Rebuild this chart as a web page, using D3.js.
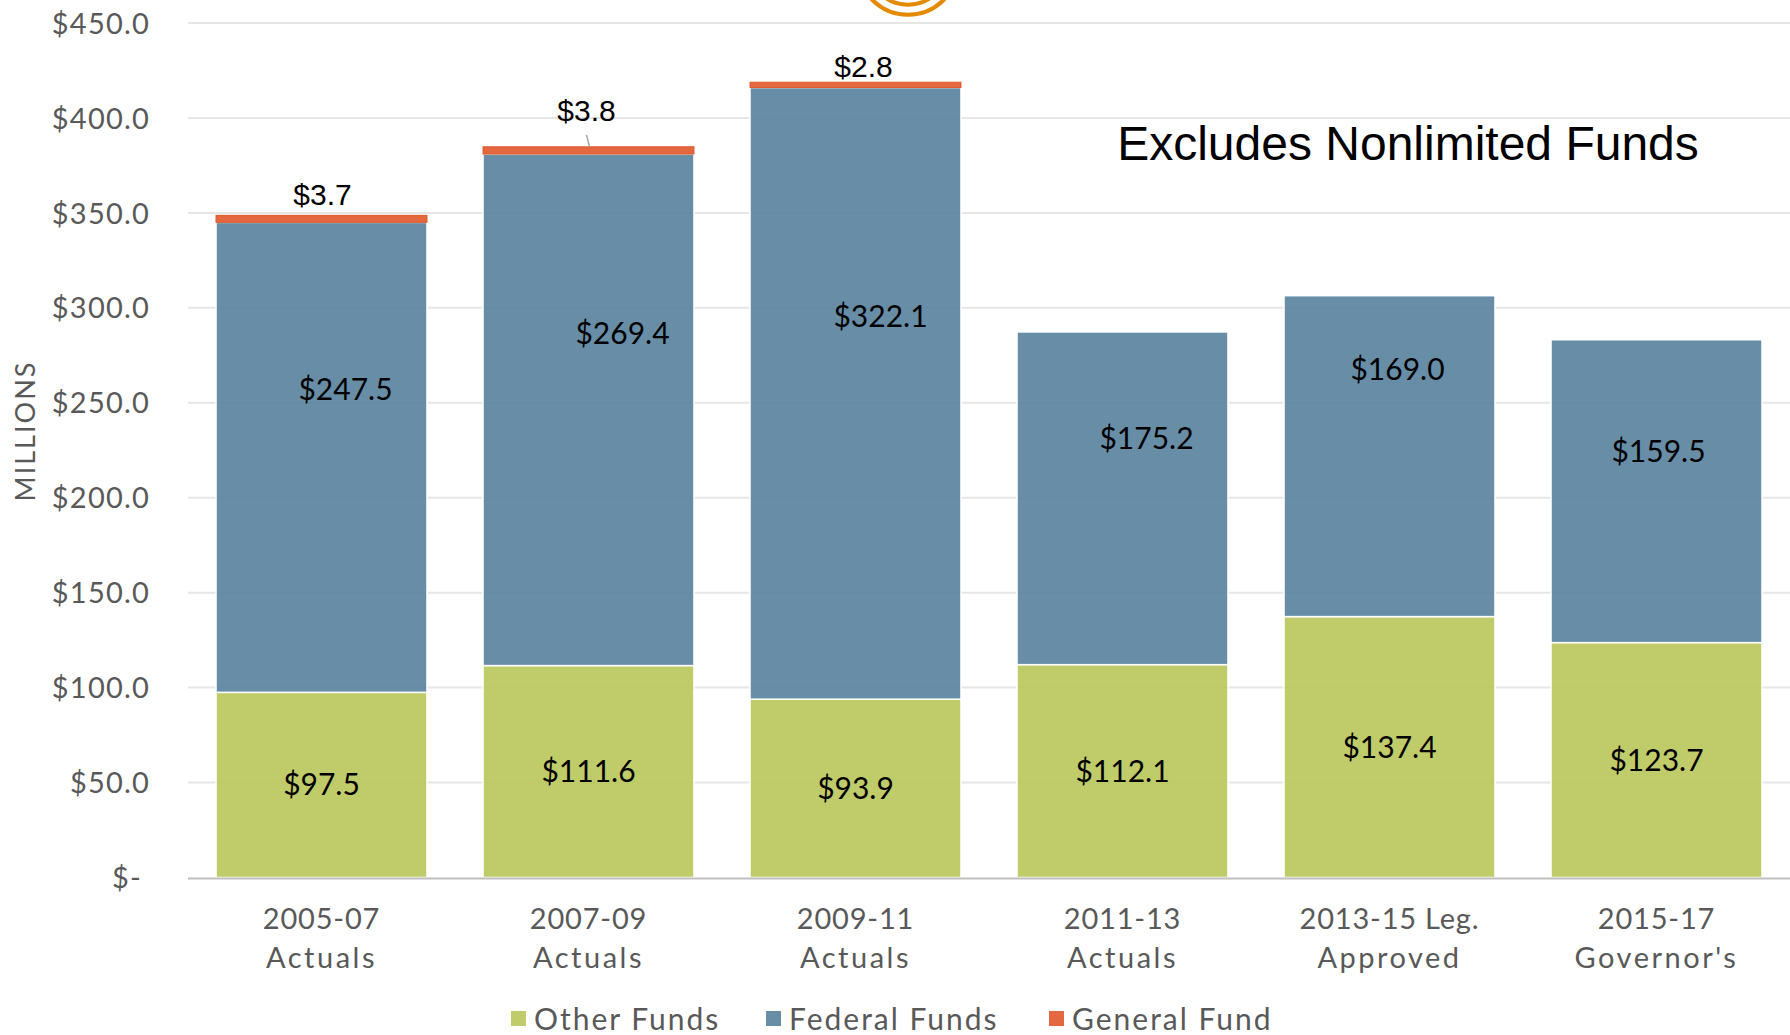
<!DOCTYPE html>
<html>
<head>
<meta charset="utf-8">
<script src="https://cdn.jsdelivr.net/npm/d3@7"></script>
<style>
  html, body { margin: 0; padding: 0; background: #fff; }
  svg { display: block; }
  .tick-label { font-family: Lato, "Noto Sans", sans-serif; fill: #595959; }
  .seg-label { font-family: Lato, "Noto Sans", sans-serif; fill: #000; }
</style>
</head>
<body>
<div id="chart"></div>
<script>
// Chart data
const periods = [
  ['2005-07', 'Actuals'],
  ['2007-09', 'Actuals'],
  ['2009-11', 'Actuals'],
  ['2011-13', 'Actuals'],
  ['2013-15 Leg.', 'Approved'],
  ['2015-17', "Governor's"]
];
const seriesNames = ['Other Funds', 'Federal Funds', 'General Fund'];
const otherFunds = [97.5, 111.6, 93.9, 112.1, 137.4, 123.7];
const federalFunds = [247.5, 269.4, 322.1, 175.2, 169.0, 159.5];
const generalFund = [3.7, 3.8, 2.8, 0, 0, 0];
const yTicks = [0, 50, 100, 150, 200, 250, 300, 350, 400, 450];

// hand placed label nudges (pixels), like the original slide
const federalLabelNudge = [[24, -68], [34, -76], [25, -77], [24, -60], [8, -87], [2, -40]];
const generalLabelNudge = [[1, -21], [-2, -36], [8, -16]];

const colors = { 'Other Funds': '#B9C75A', 'Federal Funds': '#56829C', 'General Fund': '#E0572A' };

const width = 1790;
const height = 1035;
const margin = { top: 23, right: 0, bottom: 157.5, left: 188 };

const svg = d3.select('#chart')
  .append('svg')
  .attr('width', width)
  .attr('height', height);

const x = d3.scaleBand()
  .domain(periods.map(d => d[0]))
  .range([margin.left, width - margin.right])
  .paddingInner(0.21)
  .paddingOuter(0.105);

const y = d3.scaleLinear()
  .domain([0, 450])
  .range([height - margin.bottom, margin.top]);

// logo ring peeking in at the top
const logo = svg.append('g').attr('transform', 'translate(908, -35.6)');
[50.3, 40.3].forEach(r => {
  logo.append('circle')
    .attr('r', r)
    .attr('fill', 'none')
    .attr('stroke', '#E48A00')
    .attr('stroke-width', 4);
});

// gridlines
svg.append('g')
  .selectAll('line')
  .data(yTicks.filter(d => d > 0))
  .enter()
  .append('line')
  .attr('x1', margin.left)
  .attr('x2', width)
  .attr('y1', d => y(d))
  .attr('y2', d => y(d))
  .attr('stroke', '#E6E6E6')
  .attr('stroke-width', 2);

// y axis labels
const yAxis = svg.append('g')
  .attr('transform', `translate(${margin.left - 38}, 0)`)
  .call(d3.axisLeft(y).tickValues(yTicks).tickSize(0)
    .tickFormat(d => d === 0 ? '$-' : '$' + d.toFixed(1)));
yAxis.select('.domain').remove();
yAxis.selectAll('text')
  .attr('class', 'tick-label')
  .attr('x', d => d === 0 ? -8 : 0)
  .attr('dy', '0.35em')
  .style('font-size', '29px')
  .style('letter-spacing', '1.2px');

svg.append('text')
  .attr('class', 'tick-label')
  .attr('transform', `translate(35, 431) rotate(-90)`)
  .attr('text-anchor', 'middle')
  .style('font-size', '27px')
  .style('letter-spacing', '2px')
  .text('MILLIONS');

// stacked bars
const table = periods.map((p, i) => ({
  period: p[0],
  'Other Funds': otherFunds[i],
  'Federal Funds': federalFunds[i],
  'General Fund': generalFund[i]
}));
const stacked = d3.stack().keys(seriesNames)(table);

const layers = svg.append('g')
  .selectAll('g')
  .data(stacked)
  .enter()
  .append('g')
  .attr('fill', d => colors[d.key]);

layers.selectAll('rect')
  .data(d => d.filter(s => s[1] - s[0] > 0).map(s => Object.assign(s, { key: d.key })))
  .enter()
  .append('rect')
  .attr('x', d => x(d.data.period))
  .attr('width', x.bandwidth())
  .attr('y', d => y(d[1]))
  .attr('height', d => y(d[0]) - y(d[1]))
  .attr('fill-opacity', 0.9)
  .attr('stroke', d => d.key === 'General Fund' ? colors['General Fund'] : '#fff')
  .attr('stroke-width', d => d.key === 'General Fund' ? 1 : 1.5);

// baseline
svg.append('line')
  .attr('x1', margin.left)
  .attr('x2', width)
  .attr('y1', y(0) + 1)
  .attr('y2', y(0) + 1)
  .attr('stroke', '#BFBFBF')
  .attr('stroke-width', 2);

// segment labels
const fmt = v => '$' + v.toFixed(1);
const [otherLayer, fedLayer, genLayer] = stacked;

svg.append('g')
  .selectAll('text')
  .data(otherLayer)
  .enter()
  .append('text')
  .attr('class', 'seg-label')
  .attr('x', d => x(d.data.period) + x.bandwidth() / 2)
  .attr('y', d => y((d[0] + d[1]) / 2))
  .attr('dy', '0.35em')
  .attr('text-anchor', 'middle')
  .style('font-size', '30px')
  .text(d => fmt(d[1] - d[0]));

svg.append('g')
  .selectAll('text')
  .data(fedLayer)
  .enter()
  .append('text')
  .attr('class', 'seg-label')
  .attr('x', (d, i) => x(d.data.period) + x.bandwidth() / 2 + federalLabelNudge[i][0])
  .attr('y', (d, i) => y((d[0] + d[1]) / 2) + federalLabelNudge[i][1])
  .attr('dy', '0.35em')
  .attr('text-anchor', 'middle')
  .style('font-size', '30px')
  .text(d => fmt(d[1] - d[0]));

const genData = genLayer.filter(d => d[1] - d[0] > 0);
svg.append('g')
  .selectAll('text')
  .data(genData)
  .enter()
  .append('text')
  .attr('x', (d, i) => x(d.data.period) + x.bandwidth() / 2 + generalLabelNudge[i][0])
  .attr('y', (d, i) => y(d[1]) + generalLabelNudge[i][1])
  .attr('dy', '0.35em')
  .attr('text-anchor', 'middle')
  .style('font-family', '"Liberation Sans", Arial, sans-serif')
  .style('font-size', '30px')
  .attr('fill', '#000')
  .text(d => fmt(d[1] - d[0]));

// leader line for the 2007-09 general fund label
const lead = genData[1];
svg.append('line')
  .attr('x1', x(lead.data.period) + x.bandwidth() / 2 - 2)
  .attr('x2', x(lead.data.period) + x.bandwidth() / 2 + 1)
  .attr('y1', y(lead[1]) - 12)
  .attr('y2', y(lead[1]))
  .attr('stroke', '#A6A6A6')
  .attr('stroke-width', 1.5);

// x axis labels
const xLabels = svg.append('g')
  .selectAll('text')
  .data(periods)
  .enter()
  .append('text')
  .attr('class', 'tick-label')
  .attr('text-anchor', 'middle')
  .style('font-size', '29px')
  .attr('x', d => x(d[0]) + x.bandwidth() / 2);
xLabels.append('tspan')
  .attr('x', d => x(d[0]) + x.bandwidth() / 2)
  .attr('y', y(0) + 41)
  .attr('dy', '0.35em')
  .style('letter-spacing', '0.8px')
  .text(d => d[0]);
xLabels.append('tspan')
  .attr('x', d => x(d[0]) + x.bandwidth() / 2)
  .attr('y', y(0) + 80)
  .attr('dy', '0.35em')
  .style('letter-spacing', '2.5px')
  .text(d => d[1]);

// note
svg.append('text')
  .attr('x', 1408)
  .attr('y', 143)
  .attr('dy', '0.35em')
  .attr('text-anchor', 'middle')
  .style('font-family', '"Liberation Sans", Arial, sans-serif')
  .style('font-size', '48px')
  .attr('fill', '#000')
  .text('Excludes Nonlimited Funds');

// legend
const legendX = [511, 766, 1049];
const legend = svg.append('g')
  .selectAll('g')
  .data(seriesNames)
  .enter()
  .append('g')
  .attr('transform', (d, i) => `translate(${legendX[i]}, 1019)`);
legend.append('rect')
  .attr('x', 0)
  .attr('y', -8)
  .attr('width', 15)
  .attr('height', 15)
  .attr('fill', d => colors[d])
  .attr('fill-opacity', 0.9);
legend.append('text')
  .attr('class', 'tick-label')
  .attr('x', 23)
  .attr('dy', '0.35em')
  .style('font-size', '30px')
  .style('letter-spacing', '2px')
  .text(d => d);
</script>
</body>
</html>
